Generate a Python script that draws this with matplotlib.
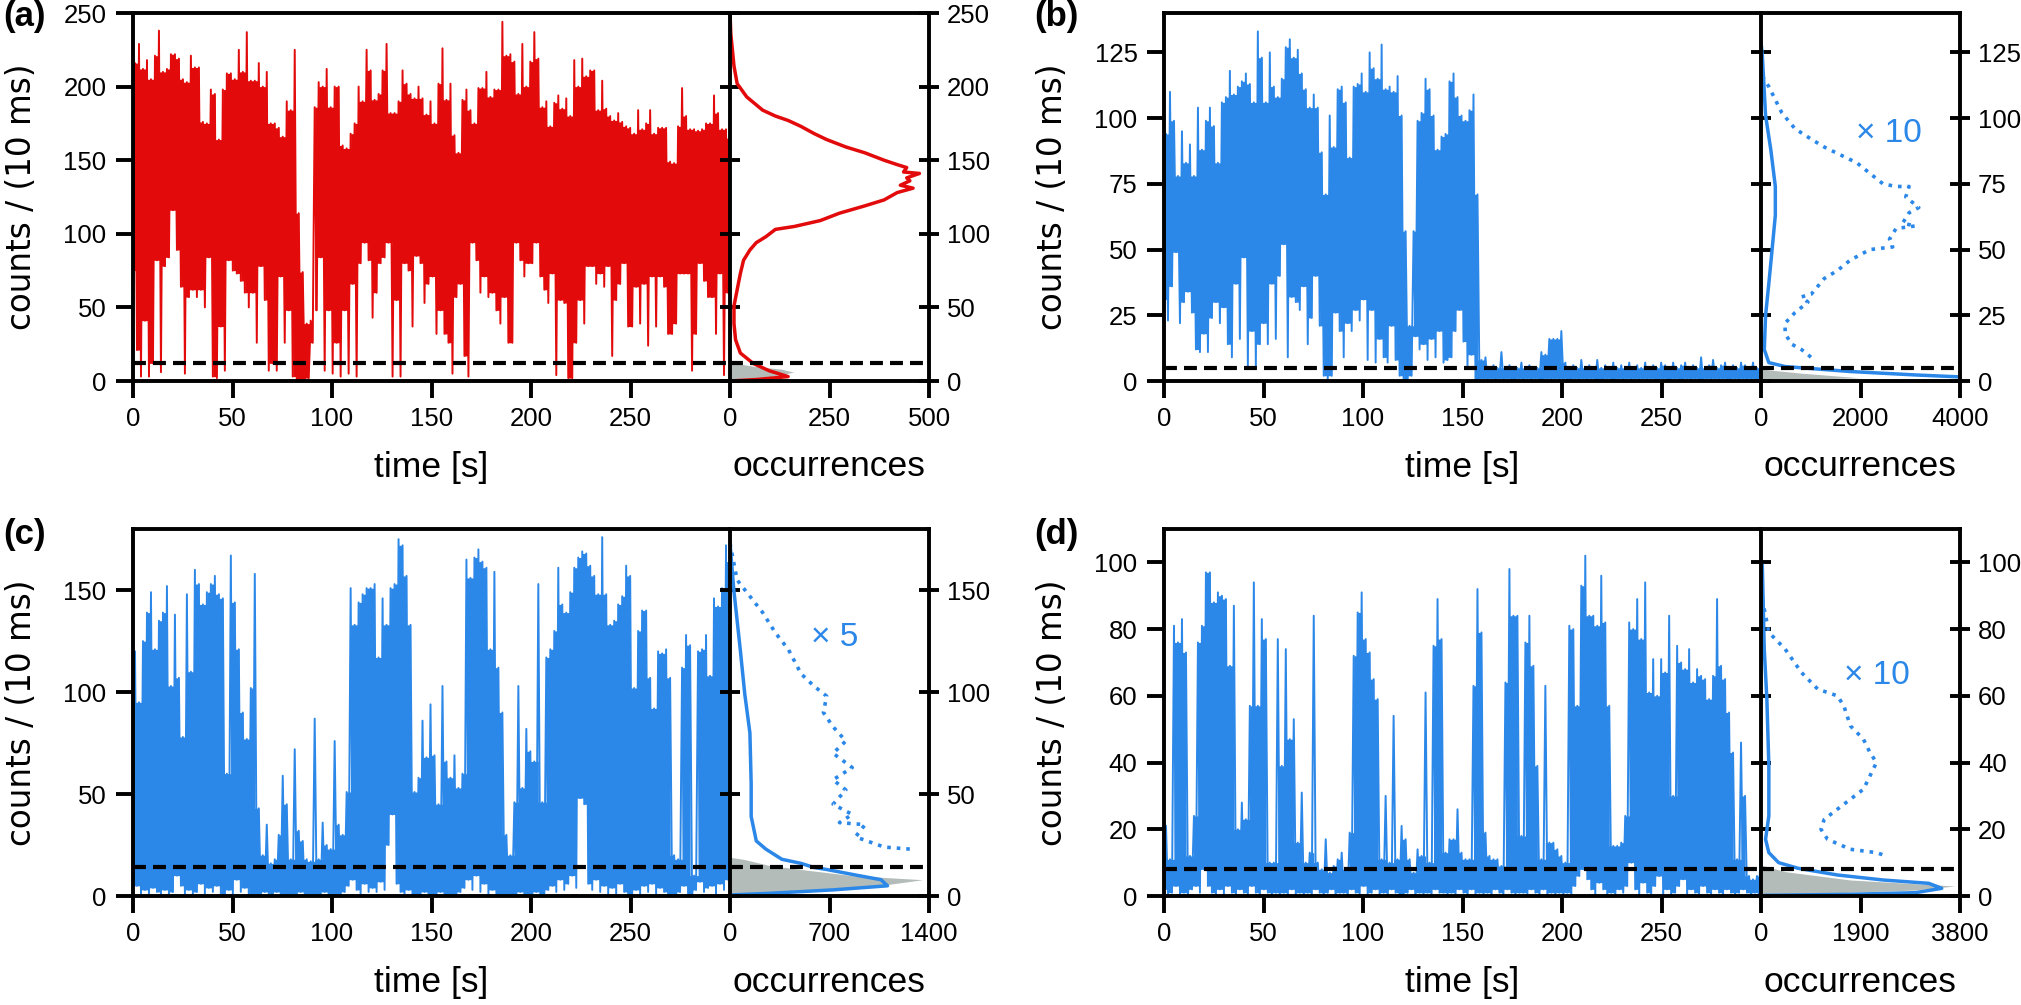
import numpy as np
import matplotlib.pyplot as plt

plt.rcParams['font.family'] = ['Liberation Sans', 'DejaVu Sans']

RED = '#e20a0a'
BLUE = '#2b87e8'
GREY = '#b3bcb8'

# intensity traces, read per 2 s bin: lowest and highest count in the bin (0..300 s)
a_low = [75, 21, 3, 41, 3, 12, 82, 6, 78, 84,
         116, 89, 64, 5, 57, 62, 57, 62, 50, 84,
         3, 2, 37, 7, 82, 75, 73, 68, 60, 50,
         60, 26, 78, 55, 7, 12, 7, 71, 26, 48,
         3, 0, 1, 0, 2, 26, 48, 84, 7, 48,
         5, 26, 3, 48, 5, 66, 3, 80, 94, 82,
         43, 60, 80, 84, 94, 3, 55, 3, 80, 75,
         37, 85, 80, 53, 66, 71, 32, 48, 32, 26,
         5, 57, 66, 17, 3, 94, 82, 60, 71, 57,
         60, 48, 39, 57, 26, 26, 94, 82, 71, 80,
         80, 94, 71, 62, 53, 73, 4, 55, 53, 2,
         2, 26, 55, 39, 78, 78, 66, 73, 64, 78,
         17, 55, 66, 80, 37, 37, 64, 39, 66, 24,
         71, 37, 71, 64, 32, 32, 39, 73, 73, 73,
         7, 32, 80, 68, 57, 57, 32, 73, 4, 60]
a_high = [216, 229, 212, 218, 205, 221, 238, 210, 212, 222,
          222, 219, 205, 203, 221, 213, 213, 176, 175, 198,
          195, 164, 198, 209, 209, 205, 225, 210, 237, 204,
          204, 216, 200, 210, 175, 175, 172, 166, 190, 184,
          225, 114, 74, 39, 41, 186, 203, 200, 212, 186,
          200, 200, 160, 158, 168, 175, 200, 190, 225, 211,
          191, 195, 211, 229, 182, 182, 190, 211, 202, 195,
          192, 200, 192, 181, 190, 175, 202, 226, 191, 202,
          167, 155, 191, 198, 184, 175, 199, 199, 210, 193,
          198, 198, 244, 221, 222, 217, 195, 229, 200, 217,
          237, 219, 186, 190, 173, 189, 194, 185, 192, 180,
          218, 200, 219, 207, 211, 211, 184, 204, 185, 180,
          177, 182, 176, 173, 172, 168, 184, 171, 175, 184,
          168, 172, 172, 172, 149, 148, 173, 199, 180, 171,
          171, 170, 171, 175, 175, 194, 182, 171, 171, 165]

b_low = [31, 23, 36, 49, 22, 30, 34, 26, 12, 11,
         18, 11, 24, 30, 22, 28, 14, 9, 37, 16,
         47, 5, 19, 5, 14, 22, 14, 37, 16, 40,
         52, 9, 32, 30, 27, 36, 14, 24, 40, 21,
         2, 0, 2, 26, 19, 9, 22, 19, 27, 23,
         31, 8, 27, 7, 16, 9, 7, 21, 8, 2,
         0, 0, 2, 17, 12, 14, 8, 16, 9, 19,
         7, 8, 9, 19, 27, 15, 5, 10, 0, 0,
         1, 0, 1, 0, 1, 0, 1, 0, 0, 1,
         0, 1, 0, 1, 0, 0, 1, 0, 1, 0,
         1, 0, 0, 1, 0, 1, 0, 1, 0, 0,
         0, 1, 0, 0, 1, 0, 1, 0, 1, 0,
         1, 0, 1, 0, 0, 1, 0, 0, 1, 0,
         0, 1, 0, 1, 0, 0, 1, 0, 1, 0,
         1, 0, 0, 1, 0, 1, 0, 1, 0, 0]
b_high = [94, 110, 99, 78, 95, 83, 90, 78, 104, 88,
          99, 104, 97, 83, 106, 108, 118, 109, 112, 114,
          117, 113, 106, 133, 123, 106, 125, 112, 108, 115,
          127, 130, 123, 126, 117, 111, 104, 109, 104, 87,
          71, 101, 89, 111, 112, 106, 85, 112, 113, 117,
          110, 125, 119, 115, 128, 111, 112, 110, 116, 101,
          57, 21, 57, 99, 102, 115, 111, 101, 88, 93,
          94, 114, 117, 108, 101, 99, 103, 109, 71, 8,
          9, 5, 6, 5, 11, 5, 6, 5, 5, 7,
          5, 6, 5, 5, 11, 10, 16, 16, 16, 19,
          7, 5, 6, 5, 8, 5, 6, 5, 8, 5,
          6, 5, 7, 5, 6, 5, 7, 5, 6, 5,
          7, 5, 6, 5, 7, 6, 5, 7, 5, 6,
          7, 5, 6, 5, 9, 5, 6, 8, 5, 6,
          7, 5, 6, 5, 7, 6, 5, 7, 5, 6]

c_low = [2, 5, 1, 3, 0, 4, 2, 1, 3, 0,
         2, 10, 5, 1, 3, 0, 2, 6, 1, 4,
         2, 5, 1, 0, 3, 1, 8, 2, 4, 1,
         0, 1, 0, 2, 1, 0, 2, 1, 0, 1,
         1, 0, 2, 1, 0, 1, 0, 1, 2, 0,
         0, 1, 0, 2, 5, 8, 3, 1, 6, 2,
         4, 2, 7, 3, 25, 40, 6, 2, 1, 3,
         0, 1, 0, 2, 1, 0, 1, 2, 0, 1,
         0, 1, 2, 4, 8, 3, 10, 2, 6, 1,
         3, 1, 0, 1, 0, 1, 0, 2, 1, 0,
         1, 2, 0, 1, 3, 5, 2, 8, 3, 6,
         10, 4, 48, 45, 6, 3, 8, 2, 5, 1,
         4, 0, 6, 2, 1, 0, 3, 1, 5, 2,
         6, 1, 4, 2, 0, 1, 0, 2, 5, 1,
         0, 3, 7, 2, 4, 5, 1, 6, 3, 8]
c_high = [120, 95, 125, 139, 149, 121, 135, 139, 152, 103,
          138, 107, 78, 148, 110, 160, 153, 143, 149, 153,
          157, 148, 146, 60, 167, 144, 121, 90, 77, 102,
          158, 43, 20, 35, 16, 18, 30, 59, 45, 18,
          72, 32, 27, 18, 17, 87, 18, 36, 25, 23,
          76, 35, 30, 51, 151, 133, 144, 148, 151, 151,
          153, 117, 146, 133, 151, 153, 175, 172, 157, 133,
          51, 58, 86, 68, 94, 69, 45, 103, 66, 58,
          69, 53, 60, 165, 156, 166, 170, 164, 161, 121,
          159, 112, 90, 30, 20, 46, 103, 53, 82, 71,
          66, 153, 46, 117, 121, 130, 161, 143, 139, 149,
          161, 166, 169, 168, 162, 157, 148, 176, 148, 133,
          135, 143, 147, 162, 157, 102, 130, 140, 140, 107,
          92, 120, 119, 121, 107, 20, 18, 112, 128, 123,
          10, 120, 121, 128, 108, 146, 142, 151, 172, 164]

d_low = [2, 0, 1, 3, 0, 1, 0, 2, 3, 1,
         8, 3, 1, 0, 2, 0, 3, 1, 0, 2,
         1, 0, 3, 1, 0, 2, 1, 0, 1, 0,
         1, 0, 2, 0, 1, 0, 1, 0, 2, 1,
         0, 1, 2, 0, 1, 1, 0, 2, 1, 0,
         3, 0, 1, 2, 0, 1, 0, 2, 1, 0,
         0, 1, 2, 0, 1, 0, 1, 0, 2, 1,
         1, 0, 1, 0, 2, 1, 0, 2, 0, 1,
         0, 1, 0, 2, 1, 0, 2, 1, 0, 1,
         1, 0, 2, 1, 0, 2, 0, 1, 0, 1,
         0, 1, 0, 3, 6, 8, 5, 2, 0, 4,
         2, 0, 1, 0, 2, 1, 3, 10, 2, 0,
         4, 1, 0, 3, 6, 0, 2, 0, 1, 3,
         5, 0, 2, 1, 0, 3, 1, 0, 2, 1,
         0, 2, 1, 0, 1, 2, 1, 0, 1, 0]
d_high = [21, 11, 81, 76, 83, 73, 12, 24, 76, 81,
          97, 97, 88, 91, 90, 89, 69, 87, 20, 28,
          23, 57, 94, 57, 83, 77, 10, 10, 77, 39,
          74, 47, 53, 16, 31, 10, 13, 84, 10, 8,
          17, 7, 9, 11, 13, 8, 19, 72, 85, 91,
          77, 73, 65, 59, 11, 30, 10, 54, 11, 21,
          17, 11, 7, 14, 12, 61, 10, 75, 89, 77,
          13, 17, 17, 26, 13, 11, 11, 63, 92, 79,
          19, 12, 11, 11, 9, 64, 98, 84, 84, 18,
          76, 84, 69, 39, 11, 63, 16, 16, 14, 12,
          10, 81, 80, 57, 93, 102, 84, 84, 81, 96,
          82, 57, 15, 15, 16, 24, 82, 80, 89, 77,
          94, 61, 71, 60, 71, 67, 84, 30, 75, 70,
          68, 74, 64, 68, 66, 65, 59, 66, 89, 69,
          65, 55, 43, 11, 46, 30, 6, 5, 6, 16]

# count histograms (occurrences vs counts), as drawn
a_hist_occ = [0, 2, 10, 18, 42, 82, 114, 146, 178, 212, 243, 291, 339, 387, 420, 444, 436,
              476, 444, 452, 428, 460, 420, 387, 339, 275, 227, 162, 114, 90, 66, 50, 34,
              26, 18, 10, 10, 14, 26, 58, 98, 146, 66, 0]
a_hist_cnt = [250, 236, 214, 202, 193, 184, 180, 177, 173, 168, 164, 159, 155, 150, 147, 145, 142,
              141, 138, 136, 133, 131, 128, 123, 119, 114, 109, 105, 103, 98, 94, 89, 82,
              73, 62, 51, 39, 28, 19, 12, 7, 3, 1, 0]
a_bg_occ = [0, 30, 100, 160, 130, 60, 15, 0]
a_bg_cnt = [0, 1, 3, 6, 8, 10, 12, 13]

b_hist_occ = [5, 26, 92, 197, 288, 288, 223, 157, 92, 66, 157, 485, 1796, 3107, 3828, 4200]
b_hist_cnt = [128, 124, 101, 88, 74, 63, 50, 37, 25, 12, 7, 5.5, 3.6, 2.3, 1.7, 1.4]
b_zoom_occ = [26, 157, 288, 420, 682, 1009, 1272, 1599, 1927, 2189, 2452, 2714, 2976, 2910,
              3172, 2976, 2845, 3107, 2714, 2583, 2648, 2189, 1796, 1534, 1272, 1009, 812,
              944, 682, 485, 485, 616, 812, 1009]
b_zoom_cnt = [116, 112, 107, 102, 96, 92, 89, 86, 83, 79, 75, 74, 74, 70, 66, 64, 60, 59, 58,
              54, 51, 50, 46, 42, 39, 33, 32, 30, 26, 22, 18, 14, 12, 9]
b_bg_occ = [0, 2000, 800, 0]
b_bg_cnt = [0.3, 1.2, 3, 4.5]

c_hist_occ = [0, 27, 72, 104, 140, 149, 149, 185, 252, 365, 500, 590, 680, 905, 1062, 1108,
              725, 275, 0]
c_hist_cnt = [173, 150, 121, 99, 80, 55, 39, 27, 23, 18, 16, 14, 13, 10, 8, 5, 3, 1.3, 0.5]
c_zoom_occ = [0, 50, 140, 230, 320, 410, 500, 590, 680, 657, 725, 815, 725, 860, 725, 815,
              725, 860, 770, 950, 883, 1085, 1265]
c_zoom_cnt = [173, 155, 147, 139, 129, 121, 109, 103, 98, 90, 83, 76, 70, 63, 57, 52, 45, 40,
              36, 35, 29, 24, 23]
c_bg_occ = [0, 95, 275, 500, 860, 1355, 1085, 725, 275, 0]
c_bg_cnt = [19, 18, 15, 13, 10, 8, 5.4, 3.8, 1.6, 0.5]

d_hist_occ = [25, 62, 112, 150, 150, 87, 150, 336, 710, 1458, 2330, 3202, 3451, 2953, 1707, 87]
d_hist_cnt = [99, 74, 59, 39, 24, 17, 13, 10, 8.3, 6.3, 4.8, 3.8, 2.3, 1.0, 0.5, 0.2]
d_zoom_occ = [25, 150, 461, 772, 1084, 1458, 1582, 1707, 1956, 2081, 2205, 2081, 1956, 1707,
              1458, 1208, 1146, 1271, 1707, 2205, 2392]
d_zoom_cnt = [89, 79, 74, 67, 62, 60, 57, 51, 47, 43, 40, 36, 32, 29, 26, 23, 20, 17, 14, 13, 12]
d_bg_occ = [0, 461, 1707, 3700, 2953, 1084, 0]
d_bg_cnt = [9.3, 7.3, 4.8, 3, 1.8, 0.8, 0.2]

W, H = 2021, 1005
TICK = 18.5
LW = 2.8


def trace_band(low, high):
    # region enclosed by the zig-zag between neighbouring lows and highs
    lo = np.asarray(low, float)
    hi = np.asarray(high, float)
    lo_next = np.append(lo[1:], lo[-1])
    hi_prev = np.insert(hi[:-1], 0, hi[0])
    hi_next = np.append(hi[1:], hi[-1])
    lower = np.repeat(np.maximum(lo, lo_next), 2)
    upper = np.column_stack([np.minimum(hi_prev, hi), np.minimum(hi, hi_next)]).ravel()
    return lower, np.maximum(upper, lower)


def draw_panel(fig, x0, y_top, y_bot, label, color, low, high, ymax, yticks, thr,
               hist_occ, hist_cnt, bg_occ, bg_cnt, hmax, hticks,
               zoom_occ=None, zoom_cnt=None, zoom_text=None, text_xy=None):
    bottom = 1 - y_bot / H
    height = (y_bot - y_top) / H
    ax = fig.add_axes([x0 / W, bottom, 597 / W, height])
    axh = fig.add_axes([(x0 + 597) / W, bottom, 199 / W, height], sharey=ax)

    # trace: low and high value of each bin, alternating
    counts = np.column_stack([low, high]).ravel()
    t = np.linspace(0, 300, counts.size)
    lower, upper = trace_band(low, high)
    ax.fill_between(t, lower, upper, step='post', color=color, lw=0)
    ax.plot(t, counts, color=color, lw=1.4)
    ax.axhline(thr, color='k', lw=3, ls=(0, (3.1, 1.7)), zorder=5)
    ax.set_xlim(0, 300)
    ax.set_ylim(0, ymax)
    ax.set_xticks([0, 50, 100, 150, 200, 250])
    ax.set_yticks(yticks)
    ax.spines['right'].set_visible(False)
    ax.tick_params(axis='both', direction='out', length=12, width=LW, labelsize=TICK, pad=7,
                   right=False, top=False)

    axh.fill_betweenx(bg_cnt, 0, bg_occ, color=GREY, lw=0)
    axh.plot(hist_occ, hist_cnt, color=color, lw=2.5)
    if zoom_occ is not None:
        axh.plot(zoom_occ, zoom_cnt, color=color, lw=2.6, ls=':')
        axh.text(text_xy[0], text_xy[1], zoom_text, color=color, fontsize=24,
                 ha='left', va='center')
    axh.axhline(thr, color='k', lw=3, ls=(0, (3.1, 1.7)), zorder=5)
    axh.set_xlim(0, hmax)
    axh.set_xticks(hticks)
    axh.tick_params(axis='x', direction='out', length=12, width=LW, labelsize=TICK, pad=7,
                    top=False)
    axh.tick_params(axis='y', direction='inout', length=14, width=LW, labelsize=TICK, pad=6,
                    left=True, right=True, labelleft=False, labelright=True)

    for a in (ax, axh):
        for s in a.spines.values():
            s.set_linewidth(LW)

    xl = 1 - (y_bot + 86) / H
    fig.text((x0 + 298) / W, xl, 'time [s]', fontsize=25.5, ha='center', va='center')
    fig.text((x0 + 696) / W, xl, 'occurrences', fontsize=25.5, ha='center', va='center')
    fig.text((x0 - 111) / W, 1 - (y_top + y_bot) / 2 / H, 'counts / (10 ms)',
             family='DejaVu Sans', fontsize=23.5, rotation=90, ha='center', va='center')
    lab_top = 0 if y_top < 100 else 518
    fig.text((x0 - 130) / W, 1 - lab_top / H, label, fontsize=25, fontweight='bold',
             ha='left', va='top')


fig = plt.figure(figsize=(W / 100, H / 100), dpi=100)

draw_panel(fig, 133, 13, 381, '(a)', RED, a_low, a_high, 250, [0, 50, 100, 150, 200, 250], 12,
           a_hist_occ, a_hist_cnt, a_bg_occ, a_bg_cnt, 500, [0, 250, 500])
draw_panel(fig, 1164, 13, 381, '(b)', BLUE, b_low, b_high, 140, [0, 25, 50, 75, 100, 125], 5,
           b_hist_occ, b_hist_cnt, b_bg_occ, b_bg_cnt, 4000, [0, 2000, 4000],
           b_zoom_occ, b_zoom_cnt, '× 10', (1900, 94))
draw_panel(fig, 133, 529, 896, '(c)', BLUE, c_low, c_high, 180, [0, 50, 100, 150], 14,
           c_hist_occ, c_hist_cnt, c_bg_occ, c_bg_cnt, 1400, [0, 700, 1400],
           c_zoom_occ, c_zoom_cnt, '× 5', (570, 127))
draw_panel(fig, 1164, 529, 896, '(d)', BLUE, d_low, d_high, 110, [0, 20, 40, 60, 80, 100], 8,
           d_hist_occ, d_hist_cnt, d_bg_occ, d_bg_cnt, 3800, [0, 1900, 3800],
           d_zoom_occ, d_zoom_cnt, '× 10', (1580, 66))

fig.savefig('out.png', dpi=100)
